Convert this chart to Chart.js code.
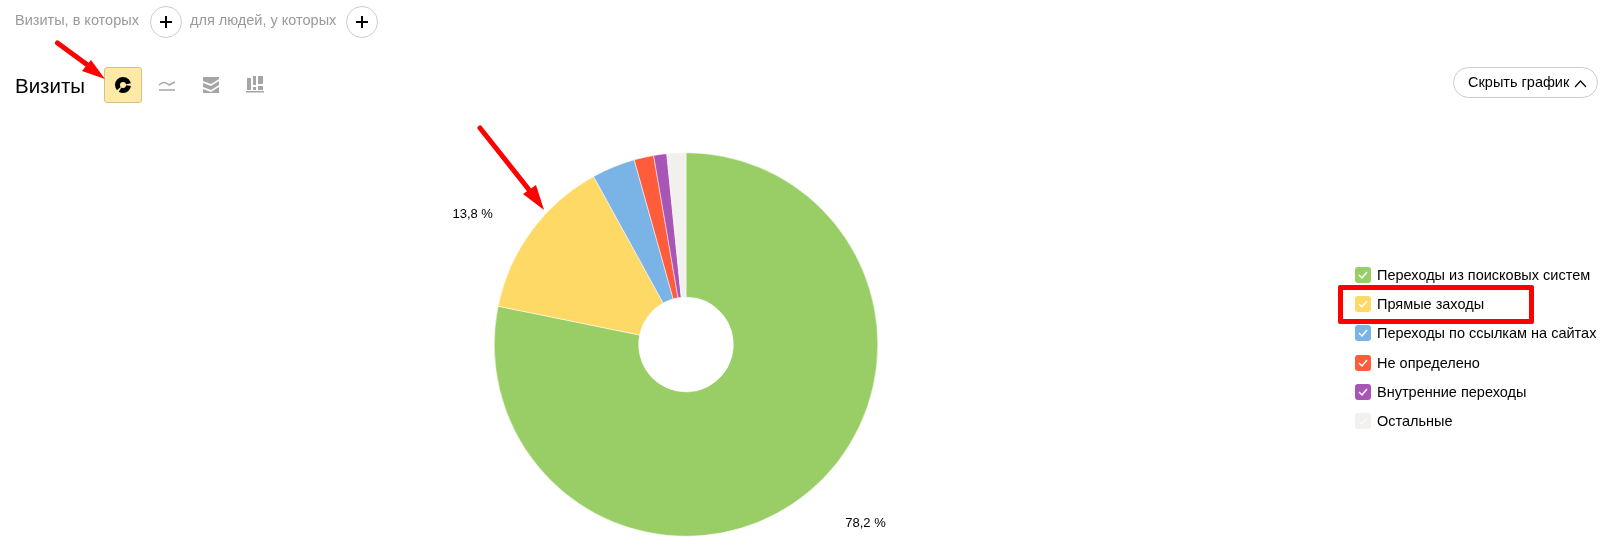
<!DOCTYPE html>
<html lang="ru">
<head>
<meta charset="utf-8">
<title>Визиты</title>
<script src="https://cdn.jsdelivr.net/npm/chart.js@4"></script>
<style>
  html, body { margin: 0; padding: 0; background: #fff; }
  body { width: 1617px; height: 558px; position: relative; overflow: hidden;
         font-family: "Liberation Sans", Arial, sans-serif; color: #000; }
  #pie { position: absolute; left: 0; top: 0; }
  .abs { position: absolute; white-space: nowrap; }
  .hint { font-size: 14.5px; color: #999; top: 12px; line-height: 16px; }
  .plus { width: 30px; height: 30px; top: 6px; border: 1px solid #ccc; border-radius: 50%; }
  .plus::before, .plus::after { content: ""; position: absolute; background: #000; }
  .plus::before { left: 9px; top: 14px; width: 12px; height: 2px; }
  .plus::after { left: 14px; top: 9px; width: 2px; height: 12px; }
  #title { left: 15px; top: 74px; font-size: 20.5px; line-height: 24px; }
  #active { left: 104px; top: 67px; width: 36px; height: 34px; background: #fee9a6; border: 1px solid #d6c283; border-radius: 3px; }
  #hide { left: 1453px; top: 67px; width: 143px; height: 29px; border: 1px solid #ccc; border-radius: 16px; font-size: 14.5px; line-height: 29px; }
  #hide span { position: absolute; left: 14px; }
  .legend-row { position: absolute; left: 1355px; height: 16px; font-size: 14.5px; line-height: 16px; white-space: nowrap; }
  .legend-row .box { position: absolute; left: 0; top: 0; width: 16px; height: 16px; border-radius: 3px; }
  .legend-row .box svg { position: absolute; left: 0; top: 0; }
  .legend-row .name { position: absolute; left: 22px; top: 0; }
  #marks { position: absolute; left: 0; top: 0; pointer-events: none; }
  #frame { position: absolute; left: 1338px; top: 285px; width: 186px; height: 29px; border: 5px solid #f00; border-radius: 2px; }
</style>
</head>
<body>
<canvas id="pie" width="1617" height="558"></canvas>

<div class="abs hint" style="left:15px">Визиты, в которых</div>
<div class="abs plus" style="left:150px"></div>
<div class="abs hint" style="left:190px">для людей, у которых</div>
<div class="abs plus" style="left:346px"></div>

<div class="abs" id="title">Визиты</div>
<div class="abs" id="active"></div>
<div class="abs" id="hide"><span>Скрыть график</span></div>

<div id="legend"></div>
<div id="frame"></div>

<svg id="marks" width="1617" height="558" viewBox="0 0 1617 558">
  <!-- chart type icons -->
  <circle cx="123" cy="85" r="5.5" fill="none" stroke="#000" stroke-width="5"/>
  <path d="M123 85 L132 83 L132 86 Z M123 85 L116 91 L118 93 Z" fill="#fee9a6"/>
  <path d="M159 85 C163 81 166 82 169 85 L175 82" fill="none" stroke="#a5a5a5" stroke-width="1.5"/>
  <path d="M159 90 H175" stroke="#a5a5a5" stroke-width="1.5"/>
  <path d="M203 77 H219 V79 L211 84 L203 81 Z M203 83 L211 86 L219 81 V85 L211 90 L203 87 Z M203 89 L211 92 L219 87 V93 H203 Z" fill="#a5a5a5"/>
  <path d="M247 78 H251 V90 H247 Z M253 76 H256 V85 H253 Z M253 87 H256 V90 H253 Z M258 76 H263 V84 H258 Z M258 86 H263 V90 H258 Z M246 91 H264 V92.5 H246 Z" fill="#a5a5a5"/>
  <!-- chevron on the hide button -->
  <path d="M1575 87 L1580.5 81 L1586 87" fill="none" stroke="#000" stroke-width="1.2"/>
  <!-- red arrows -->
  <path d="M57.5 43 L93 69" stroke="#f00" stroke-width="5" stroke-linecap="round"/>
  <path d="M105 79 L82 71 L91 60 Z" fill="#f00"/>
  <path d="M480 128 L530 191" stroke="#f00" stroke-width="5" stroke-linecap="round"/>
  <path d="M544 210 L523 194 L536 185 Z" fill="#f00"/>
</svg>

<script>
const categories = ['Переходы из поисковых систем', 'Прямые заходы', 'Переходы по ссылкам на сайтах', 'Не определено', 'Внутренние переходы', 'Остальные'];
const shares = [78.2, 13.8, 3.65, 1.65, 1.1, 1.6];
const sliceColors = ['#99ce66', '#ffd966', '#7ab4e6', '#ff5c3b', '#a855b5', '#f1f0ed'];
const shownLabels = ['78,2 %', '13,8 %', '', '', '', ''];

// percent labels next to the big slices
const sliceLabels = {
  id: 'sliceLabels',
  afterDraw(chart) {
    const ctx = chart.ctx;
    const arcs = chart.getDatasetMeta(0).data;
    ctx.save();
    ctx.font = '13px "Liberation Sans", Arial, sans-serif';
    ctx.fillStyle = '#000';
    ctx.textBaseline = 'middle';
    arcs.forEach((arc, i) => {
      if (!shownLabels[i]) return;
      const mid = (arc.startAngle + arc.endAngle) / 2;
      const r = arc.outerRadius + 30;
      const x = arc.x + Math.cos(mid) * r;
      const y = arc.y + Math.sin(mid) * r;
      const right = x > arc.x;
      ctx.textAlign = right ? 'left' : 'right';
      ctx.fillText(shownLabels[i], x + (right ? 19 : -14.5), y + (right ? 7.5 : 1));
    });
    ctx.restore();
  }
};

new Chart(document.getElementById('pie').getContext('2d'), {
  type: 'doughnut',
  data: {
    labels: categories,
    datasets: [{
      data: shares,
      backgroundColor: sliceColors,
      borderColor: '#ffffff',
      borderWidth: 0.5
    }]
  },
  options: {
    responsive: false,
    animation: false,
    cutout: '24.7%',
    layout: { padding: { left: 494, right: 739, top: 152.5, bottom: 21.5 } },
    plugins: { legend: { display: false }, tooltip: { enabled: true } }
  },
  plugins: [sliceLabels]
});

// legend on the right
const legendTops = [267, 296, 325, 355, 384, 413];
const legend = document.getElementById('legend');
categories.forEach((name, i) => {
  const row = document.createElement('div');
  row.className = 'legend-row';
  row.style.top = legendTops[i] + 'px';
  row.innerHTML = '<div class="box" style="background:' + sliceColors[i] + '">' +
    '<svg width="16" height="16"><path d="M4 8 L7 11 L12 5" fill="none" stroke="#fff" stroke-width="1.5" opacity="' + (i === 5 ? 0.6 : 1) + '"/></svg>' +
    '</div><div class="name">' + name + '</div>';
  legend.appendChild(row);
});
</script>
</body>
</html>
